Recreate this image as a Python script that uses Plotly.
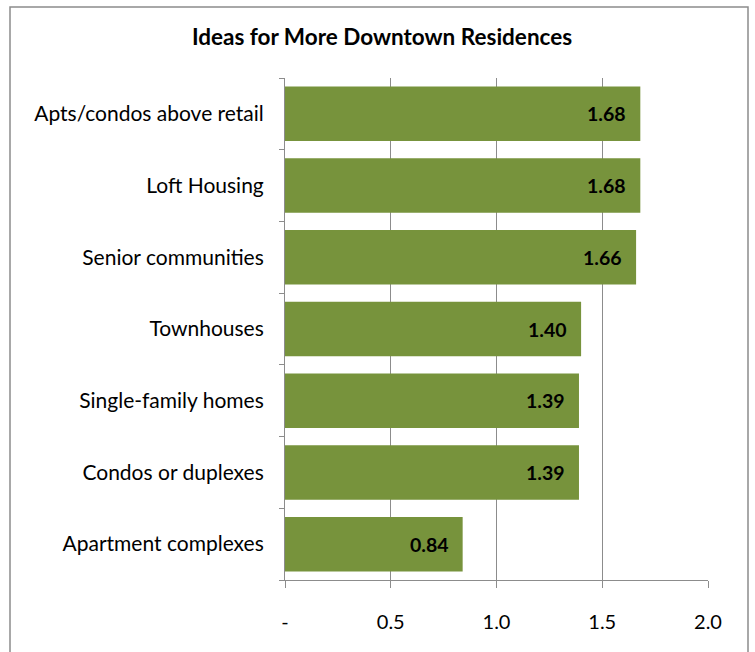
import plotly.graph_objects as go

categories = ["Apts/condos above retail", "Loft Housing", "Senior communities",
              "Townhouses", "Single-family homes", "Condos or duplexes",
              "Apartment complexes"]
values = [1.68, 1.68, 1.66, 1.40, 1.39, 1.39, 0.84]
tick_vals = [0, 0.5, 1.0, 1.5, 2.0]
tick_text = ["-", "0.5", "1.0", "1.5", "2.0"]
title = "Ideas for More Downtown Residences"

FONT = "Lato, Carlito, Calibri, sans-serif"
GRID = "#8c8c8c"

fig = go.Figure()
fig.add_trace(go.Bar(
    x=values, y=categories, orientation="h",
    marker=dict(color="#77933C", line=dict(width=0)),
    width=0.76,
    hoverinfo="x+y",
))

for c, v in zip(categories, values):
    fig.add_annotation(x=v, y=c, xref="x", yref="y", text=f"<b>{v:.2f}</b>",
                       showarrow=False, xanchor="right", xshift=-12,
                       font=dict(family=FONT, size=19.5, color="black"))

fig.update_layout(
    width=755, height=652,
    margin=dict(l=285, r=47, t=78, b=72),
    paper_bgcolor="white", plot_bgcolor="white",
    showlegend=False,
    font=dict(family=FONT, size=20, color="black"),
    title=dict(text=f"<b>{title}</b>", x=(382) / 755, xanchor="center",
               y=1 - 37 / 652, yanchor="middle",
               font=dict(family=FONT, size=22.5, color="black")),
    xaxis=dict(range=[0, 2.0], tickvals=tick_vals, ticktext=tick_text,
               showgrid=True, gridcolor=GRID, gridwidth=1,
               showline=True, linecolor=GRID, linewidth=1,
               ticks="outside", ticklen=7, tickcolor=GRID,
               ticklabelstandoff=17, zeroline=False,
               tickfont=dict(family=FONT, size=20)),
    yaxis=dict(categoryorder="array", categoryarray=categories[::-1],
               autorange=False, range=[-0.5, len(categories) - 0.5],
               showline=True, linecolor=GRID, linewidth=1,
               ticks="outside", ticklen=5, tickcolor=GRID,
               tickson="boundaries", ticklabelstandoff=16,
               showgrid=False, zeroline=False,
               tickfont=dict(family=FONT, size=21)),
    bargap=0.24,
)

fig.add_shape(type="rect", xref="paper", yref="paper",
              x0=(10 - 285) / 423, x1=(748 - 285) / 423,
              y0=-0.16, y1=1 + 71 / 502,
              line=dict(color="#8c8c8c", width=1.5), fillcolor="rgba(0,0,0,0)",
              layer="below")

fig.write_html("out.html")
